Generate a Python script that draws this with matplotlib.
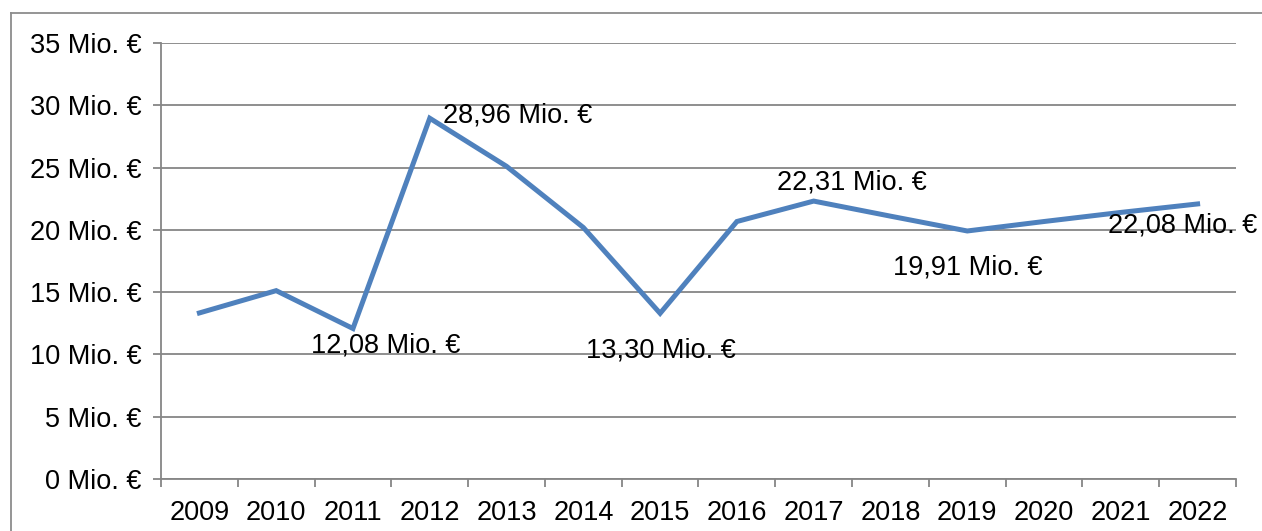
import matplotlib.pyplot as plt
from matplotlib.lines import Line2D
import numpy as np

years = ['2009', '2010', '2011', '2012', '2013', '2014', '2015',
         '2016', '2017', '2018', '2019', '2020', '2021', '2022']
values = [13.33, 15.12, 12.08, 28.96, 25.1, 20.19, 13.30,
          20.67, 22.31, 21.1, 19.91, 20.67, 21.4, 22.08]
# labelled points: index -> text
labels = {2: '12,08 Mio. €', 3: '28,96 Mio. €', 6: '13,30 Mio. €',
          8: '22,31 Mio. €', 10: '19,91 Mio. €', 13: '22,08 Mio. €'}
# label offsets in pixels (dx, dy of baseline)
label_offsets = {2: (33, -24), 3: (88, -4.5), 6: (1, -44.5),
                 8: (38, 11.5), 10: (1, -43.5), 13: (-15, -29)}
y_ticks = [0, 5, 10, 15, 20, 25, 30, 35]

plt.rcParams['font.family'] = ['Liberation Sans', 'DejaVu Sans']
W, H = 1262, 531
fig = plt.figure(figsize=(W / 100, H / 100), dpi=100)
ax = fig.add_axes([161 / W, 1 - 479 / H, (1236 - 161) / W, (479 - 43) / H])

grid_col = '#868686'
fs = 19.5
x = np.arange(len(years))
ax.plot(x, values, color='#4F81BD', lw=3.6, solid_joinstyle='miter', zorder=3)

ax.set_xlim(-0.5, len(years) - 0.5)
ax.set_ylim(0, 35)
ax.set_yticks(y_ticks)
ax.set_yticklabels([f'{v} Mio. €' for v in y_ticks])
ax.set_xticks(x)
ax.set_xticklabels(years)
ax.set_xticks(np.arange(-0.5, len(years)), minor=True)
ax.tick_params(axis='x', which='major', length=0, pad=15, labelsize=fs)
ax.tick_params(axis='x', which='minor', length=5.5, width=1.3, color=grid_col, direction='out')
ax.tick_params(axis='y', length=5.5, width=1.3, color=grid_col, pad=8.5, labelsize=fs)
ax.grid(axis='y', color=grid_col, lw=1.3)
ax.set_axisbelow(True)
for s in ['top', 'right']:
    ax.spines[s].set_visible(False)
for s in ['left', 'bottom']:
    ax.spines[s].set_color(grid_col)
    ax.spines[s].set_linewidth(1.3)

px = 0.72
for i, txt in labels.items():
    dx, dy = label_offsets[i]
    ax.annotate(txt, (x[i], values[i]), xytext=(dx * px, dy * px),
                textcoords='offset points', ha='center', va='baseline',
                fontsize=fs, zorder=4)

# outer chart frame (partly cut off at right and bottom)
fig.add_artist(Line2D([11 / W, 1.01], [1 - 13 / H, 1 - 13 / H], color='#8c8c8c', lw=1.3))
fig.add_artist(Line2D([11 / W, 11 / W], [1 - 13 / H, -0.01], color='#8c8c8c', lw=1.3))

fig.savefig('out.png', dpi=100)
